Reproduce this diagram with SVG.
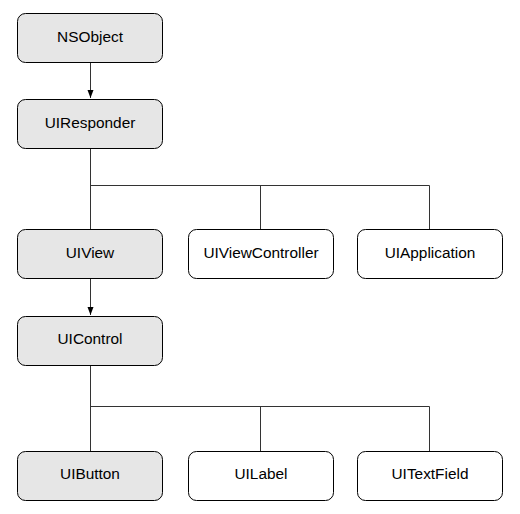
<svg xmlns="http://www.w3.org/2000/svg" width="520" height="514" viewBox="0 0 520 514">
<style>
.box{stroke:#000;stroke-width:1}
.g{fill:#e6e6e6}
.w{fill:#fff}
.t{font-family:"Liberation Sans",Arial,sans-serif;font-size:15.4px;fill:#000;text-anchor:middle}
.c{fill:none;stroke:#333;stroke-width:1}
</style>
<defs>
<marker id="ah" viewBox="0 0 8 8" refX="8" refY="4" markerWidth="8" markerHeight="8" markerUnits="userSpaceOnUse" orient="auto">
<path d="M0,1 L8,4 L0,7 Z" fill="#000"/>
</marker>
</defs>
<rect width="520" height="514" fill="#fff"/>
<g id="connectors">
<path class="c" d="M90.5,62 V98" marker-end="url(#ah)"/>
<path class="c" d="M90.5,149 V229 M90.5,185.5 H429.5 V229 M260.5,185.5 V229"/>
<path class="c" d="M90.5,278 V315" marker-end="url(#ah)"/>
<path class="c" d="M90.5,365 V451 M90.5,406.5 H429.5 V451 M260.5,406.5 V451"/>
</g>
<g id="NSObject"><rect class="box g" x="17.5" y="13.5" width="145" height="49" rx="8"/><text class="t" x="90" y="42">NSObject</text></g>
<g id="UIResponder"><rect class="box g" x="17.5" y="99.5" width="145" height="49" rx="8"/><text class="t" x="90" y="128">UIResponder</text></g>
<g id="UIView"><rect class="box g" x="17.5" y="229.5" width="145" height="49" rx="8"/><text class="t" x="90" y="258">UIView</text></g>
<g id="UIViewController"><rect class="box w" x="188.5" y="229.5" width="145" height="49" rx="8"/><text class="t" x="261" y="258">UIViewController</text></g>
<g id="UIApplication"><rect class="box w" x="357.5" y="229.5" width="145" height="49" rx="8"/><text class="t" x="430" y="258">UIApplication</text></g>
<g id="UIControl"><rect class="box g" x="17.5" y="316.5" width="145" height="49" rx="8"/><text class="t" x="90" y="344">UIControl</text></g>
<g id="UIButton"><rect class="box g" x="17.5" y="451.5" width="145" height="49" rx="8"/><text class="t" x="90" y="479">UIButton</text></g>
<g id="UILabel"><rect class="box w" x="188.5" y="451.5" width="145" height="49" rx="8"/><text class="t" x="261" y="479">UILabel</text></g>
<g id="UITextField"><rect class="box w" x="357.5" y="451.5" width="145" height="49" rx="8"/><text class="t" x="430" y="479">UITextField</text></g>
</svg>
